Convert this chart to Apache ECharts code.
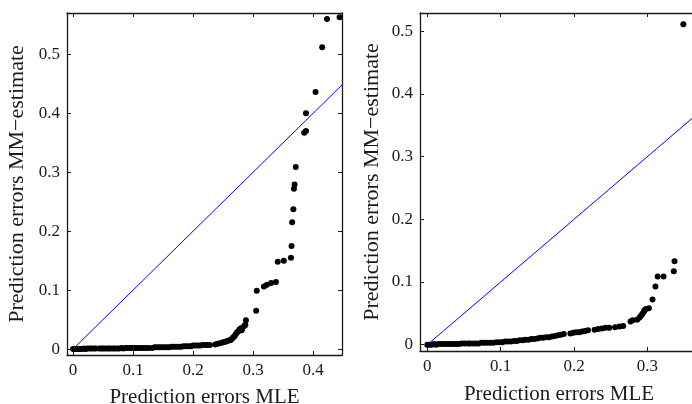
<!DOCTYPE html>
<html>
<head>
<meta charset="utf-8">
<script src="https://cdn.jsdelivr.net/npm/echarts@6/dist/echarts.min.js"></script>
<style>html,body{margin:0;padding:0;background:#fff}#c{width:692px;height:404px}</style>
</head>
<body>
<div id="c"></div>
<script>
// Left panel: prediction errors MLE (x) vs MM-estimate (y)
const leftX = [0.000,0.003,0.006,0.009,0.012,0.015,0.018,0.021,0.024,0.028,0.031,0.035,0.038,0.044,0.047,0.050,0.053,0.057,0.060,0.063,0.067,0.070,0.074,0.077,0.081,0.084,0.088,0.091,0.095,0.099,0.103,0.106,0.110,0.114,0.118,0.122,0.126,0.132,0.136,0.140,0.144,0.148,0.152,0.156,0.160,0.164,0.168,0.172,0.176,0.180,0.184,0.188,0.192,0.196,0.200,0.204,0.208,0.212,0.216,0.220,0.224,0.228,0.237,0.241,0.245,0.249,0.252,0.255,0.258,0.261,0.263,0.265,0.267,0.269,0.271,0.273,0.275,0.277,0.279,0.281,0.282,0.285,0.287,0.288,0.305,0.306,0.318,0.323,0.330,0.338,0.341,0.351,0.363,0.364,0.365,0.367,0.368,0.369,0.371,0.385,0.388,0.388,0.404,0.415,0.423,0.444];
const leftY = [0.000,0.000,0.000,0.000,0.000,0.000,0.001,0.000,0.001,0.001,0.001,0.001,0.001,0.001,0.001,0.001,0.001,0.001,0.001,0.001,0.001,0.001,0.001,0.001,0.002,0.001,0.002,0.002,0.002,0.002,0.002,0.002,0.002,0.002,0.002,0.002,0.002,0.002,0.003,0.003,0.003,0.003,0.003,0.003,0.003,0.004,0.004,0.004,0.004,0.004,0.005,0.005,0.005,0.005,0.006,0.006,0.006,0.006,0.007,0.007,0.007,0.007,0.008,0.009,0.010,0.011,0.012,0.013,0.014,0.015,0.016,0.018,0.020,0.022,0.025,0.028,0.030,0.033,0.035,0.032,0.036,0.039,0.041,0.049,0.065,0.099,0.106,0.109,0.112,0.114,0.148,0.150,0.155,0.175,0.215,0.237,0.272,0.279,0.309,0.367,0.370,0.400,0.436,0.512,0.560,0.563];
// Right panel
const rightX = [0.000,0.003,0.006,0.009,0.012,0.015,0.018,0.022,0.025,0.029,0.032,0.036,0.040,0.043,0.047,0.051,0.055,0.058,0.062,0.066,0.070,0.074,0.078,0.082,0.086,0.090,0.094,0.098,0.102,0.106,0.110,0.114,0.118,0.122,0.126,0.130,0.134,0.138,0.142,0.146,0.150,0.154,0.158,0.162,0.166,0.170,0.174,0.178,0.182,0.186,0.195,0.199,0.203,0.207,0.211,0.215,0.219,0.228,0.233,0.238,0.243,0.248,0.256,0.262,0.267,0.277,0.280,0.286,0.289,0.291,0.293,0.295,0.296,0.298,0.302,0.307,0.311,0.314,0.322,0.336,0.337,0.349];
const rightY = [0.000,0.000,0.000,0.001,0.000,0.001,0.001,0.001,0.001,0.001,0.001,0.001,0.001,0.001,0.002,0.002,0.002,0.002,0.002,0.002,0.002,0.003,0.003,0.003,0.003,0.003,0.004,0.004,0.004,0.005,0.005,0.005,0.006,0.006,0.007,0.007,0.008,0.008,0.009,0.009,0.010,0.011,0.011,0.012,0.012,0.013,0.014,0.015,0.016,0.017,0.018,0.019,0.020,0.020,0.021,0.022,0.023,0.024,0.025,0.026,0.027,0.027,0.028,0.029,0.030,0.037,0.039,0.040,0.043,0.046,0.049,0.052,0.055,0.057,0.058,0.072,0.093,0.109,0.109,0.117,0.133,0.511];
// Reference line y = x (endpoints)
const diagLeft = [0, 0.45];
const diagRight = [0, 0.37];

const xTitle = 'Prediction errors MLE';
const yTitle = 'Prediction errors MM\u2212estimate';

const FONT = 'Liberation Serif';
const TXT = '#1a1a1a';
const AX = '#1a1a1a';

function pts(xs, ys){ return xs.map((x,i)=>[x, ys[i]]); }

function mainX(gi, min, max, gap){
  return {gridIndex: gi, type:'value', min, max, splitNumber:5, position:'bottom',
    name: xTitle, nameLocation:'middle', nameGap: gap,
    nameTextStyle:{fontFamily:FONT, fontSize:21, color:TXT},
    axisLine:{show:true, onZero:false, lineStyle:{color:AX, width:1.3}},
    axisTick:{show:true, inside:true, length:4, lineStyle:{color:AX}},
    axisLabel:{fontFamily:FONT, fontSize:17, color:TXT, margin:7, showMinLabel:false, showMaxLabel:false},
    splitLine:{show:false}};
}
function topX(gi, min, max){
  return {gridIndex: gi, type:'value', min, max, splitNumber:5, position:'top',
    axisLine:{show:true, onZero:false, lineStyle:{color:AX, width:1.3}},
    axisTick:{show:true, inside:true, length:4, lineStyle:{color:AX}},
    axisLabel:{show:false}, splitLine:{show:false}};
}
function mainY(gi, min, max, gap){
  return {gridIndex: gi, type:'value', min, max, splitNumber:5, position:'left',
    name: yTitle, nameLocation:'middle', nameGap: gap,
    nameTextStyle:{fontFamily:FONT, fontSize:22, color:TXT},
    axisLine:{show:true, onZero:false, lineStyle:{color:AX, width:1.3}},
    axisTick:{show:true, inside:true, length:4, lineStyle:{color:AX}},
    axisLabel:{fontFamily:FONT, fontSize:17, color:TXT, margin:7, showMinLabel:false, showMaxLabel:false},
    splitLine:{show:false}};
}
function rightYAx(gi, min, max){
  return {gridIndex: gi, type:'value', min, max, splitNumber:5, position:'right',
    axisLine:{show:true, onZero:false, lineStyle:{color:AX, width:1.3}},
    axisTick:{show:true, inside:true, length:4, lineStyle:{color:AX}},
    axisLabel:{show:false}, splitLine:{show:false}};
}

const chart = echarts.init(document.getElementById('c'), null, {renderer:'canvas'});
chart.setOption({
  animation:false,
  backgroundColor:'#fff',
  grid:[
    {left:67, top:13, width:275, height:342, containLabel:false, outerBoundsMode:'none'},
    {left:420, top:13, width:278, height:338, containLabel:false, outerBoundsMode:'none'}
  ],
  xAxis:[ mainX(0,-0.01,0.448,32), topX(0,-0.01,0.448), mainX(1,-0.01,0.369,33), topX(1,-0.01,0.369) ],
  yAxis:[ mainY(0,-0.01,0.57,39), rightYAx(0,-0.01,0.57), mainY(1,-0.01,0.529,37), rightYAx(1,-0.01,0.529) ],
  series:[
    {type:'line', xAxisIndex:0, yAxisIndex:0, data:pts(diagLeft, diagLeft), symbol:'none',
      lineStyle:{color:'#0000ff', width:1}, silent:true, clip:true},
    {type:'scatter', xAxisIndex:0, yAxisIndex:0, data:pts(leftX, leftY), symbolSize:6,
      itemStyle:{color:'#000', opacity:1}},
    {type:'line', xAxisIndex:2, yAxisIndex:2, data:pts(diagRight, diagRight), symbol:'none',
      lineStyle:{color:'#0000ff', width:1}, silent:true, clip:true},
    {type:'scatter', xAxisIndex:2, yAxisIndex:2, data:pts(rightX, rightY), symbolSize:6,
      itemStyle:{color:'#000', opacity:1}}
  ]
});
</script>
</body>
</html>
